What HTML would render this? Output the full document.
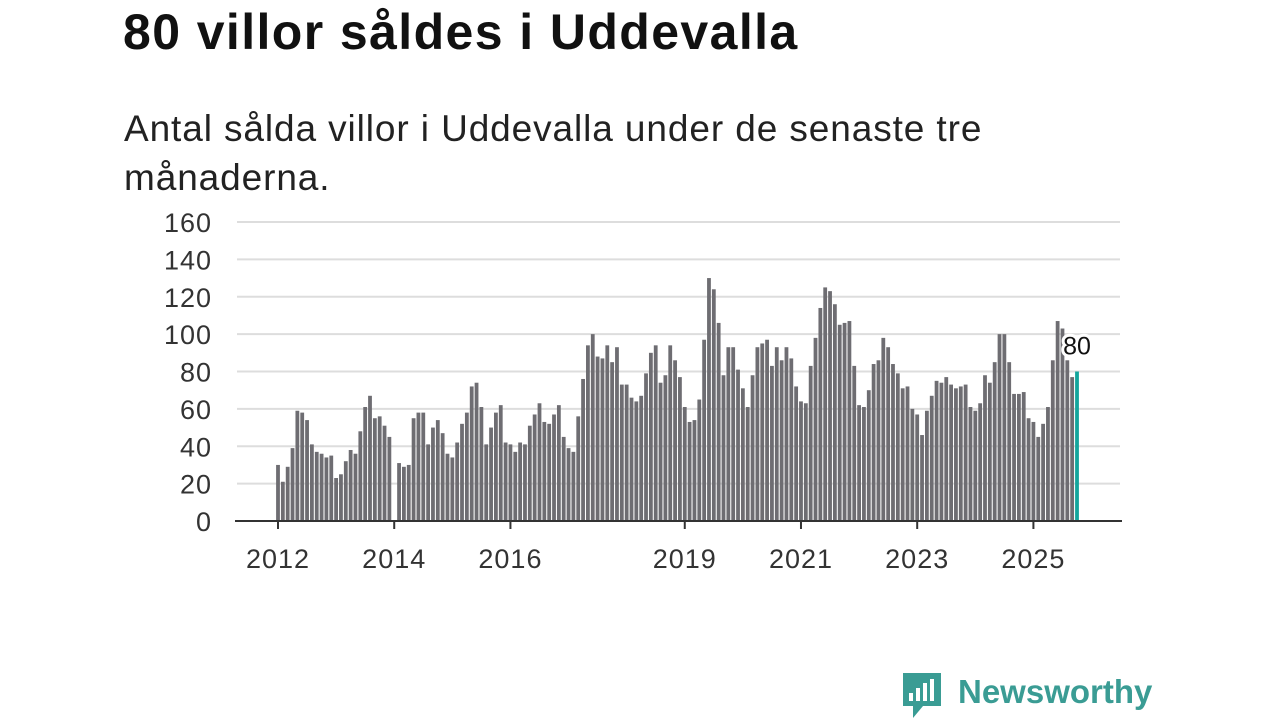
<!DOCTYPE html>
<html><head><meta charset="utf-8">
<style>
body{margin:0;width:1280px;height:720px;background:#fff;overflow:hidden;font-family:"Liberation Sans",sans-serif;}
#title{position:absolute;left:123px;top:2px;font-size:50px;letter-spacing:1.4px;font-weight:bold;color:#111;margin:0;line-height:60px;}
#sub{position:absolute;left:124px;top:104px;font-size:37px;letter-spacing:0.9px;line-height:49px;color:#222;width:1100px;}
svg{position:absolute;left:0;top:0;}
</style></head><body>
<h1 id="title">80 villor såldes i Uddevalla</h1>
<div id="sub">Antal sålda villor i Uddevalla under de senaste tre<br>månaderna.</div>
<svg id="chart" width="1280" height="720"></svg>
<svg width="1280" height="720" style="pointer-events:none">
<path d="M903 673h38v33h-18l-10 12v-12h-10z" fill="#3a9c94"/>
<rect x="909" y="693" width="4" height="8" fill="#fff"/><rect x="916" y="688" width="4" height="13" fill="#fff"/><rect x="923" y="683" width="4" height="18" fill="#fff"/><rect x="930" y="679" width="4" height="22" fill="#fff"/>
<text x="958" y="703" font-size="33" font-weight="bold" fill="#3a9c94" font-family="Liberation Sans, sans-serif">Newsworthy</text>
</svg>
<script>
const values=[30,21,29,39,59,58,54,41,37,36,34,35,
23,25,32,38,36,48,61,67,55,56,51,45,
0,31,29,30,55,58,58,41,50,54,47,36,
34,42,52,58,72,74,61,41,50,58,62,42,
41,37,42,41,51,57,63,53,52,57,62,45,
39,37,56,76,94,100,88,87,94,85,93,73,
73,66,64,67,79,90,94,74,78,94,86,77,
61,53,54,65,97,130,124,106,78,93,93,81,
71,61,78,93,95,97,83,93,86,93,87,72,
64,63,83,98,114,125,123,116,105,106,107,83,
62,61,70,84,86,98,93,84,79,71,72,60,
57,46,59,67,75,74,77,73,71,72,73,61,
59,63,78,74,85,100,100,85,68,68,69,55,
53,45,52,61,86,107,103,86,77,80];
const yTicks=[0,20,40,60,80,100,120,140,160];
const xYears=[2012,2014,2016,2019,2021,2023,2025];
const startYear=2012;
const svg=document.getElementById('chart');
const NS='http://www.w3.org/2000/svg';
const x0=278,step=(1077-278)/165;
const y=v=>521-v*(299/160);
const x=i=>x0+i*step;
function mk(t,a){const e=document.createElementNS(NS,t);for(const k in a)e.setAttribute(k,a[k]);svg.appendChild(e);return e;}
yTicks.forEach(v=>{
 if(v>0){const g=mk('line',{x1:237,x2:1120,y1:y(v),y2:y(v),stroke:'#ddd','stroke-width':2});
 
 }
 const t=mk('text',{x:212,y:y(v)+10,'text-anchor':'end','font-size':27,'letter-spacing':1,fill:'#333'});t.textContent=v;
 
 
});
values.forEach((v,i)=>{
 const last=i===values.length-1;
 const r=mk('rect',{x:x(i)-1.9,y:y(v),width:3.8,height:521-y(v),fill:last?'#13a59c':'#6e6d72'});
 
 
});
const ax=mk('line',{x1:235,x2:1122,y1:521,y2:521,stroke:'#333','stroke-width':2});


xYears.forEach(yr=>{
 const xi=x((yr-startYear)*12);
 const tk=mk('line',{x1:xi,x2:xi,y1:521,y2:529,stroke:'#333','stroke-width':2});
 
 
 const t=mk('text',{x:xi,y:568,'text-anchor':'middle','font-size':27,'letter-spacing':1,fill:'#333'});t.textContent=yr;
 
 
});
const lv=values[values.length-1];
const lbl=mk('text',{x:x(values.length-1),y:y(lv)-17,'text-anchor':'middle','font-size':25,fill:'#111',stroke:'#fff','stroke-width':6,'paint-order':'stroke'});
lbl.textContent=lv;


</script>
</body></html>
